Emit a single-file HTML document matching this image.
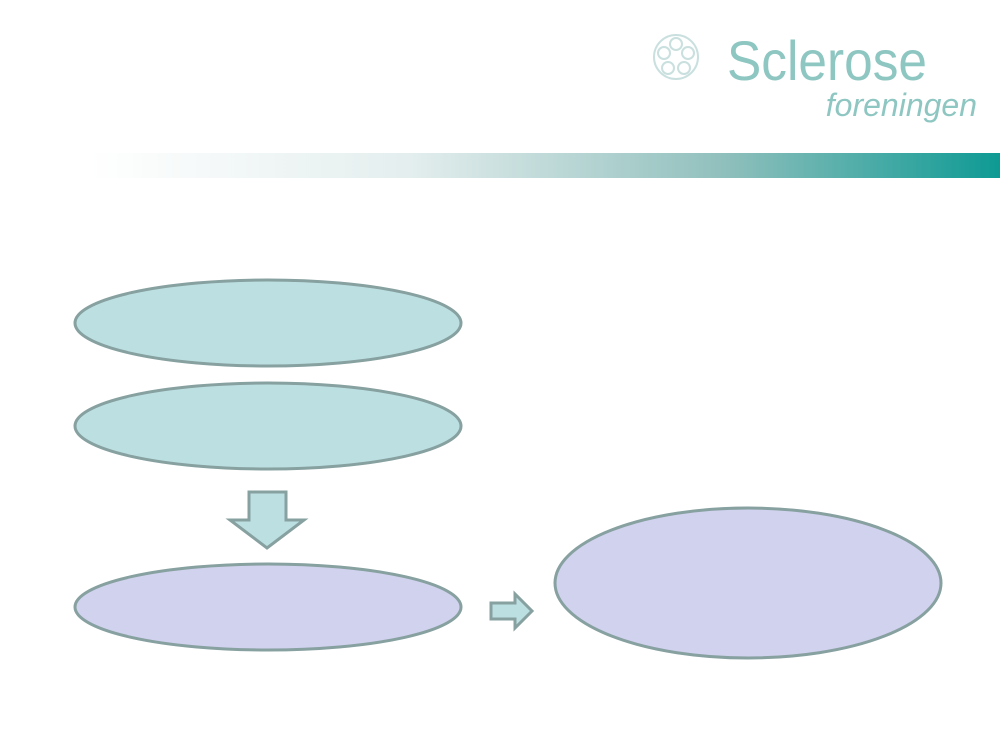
<!DOCTYPE html>
<html><head><style>body{margin:0;background:#fff}svg{display:block}</style></head><body>
<svg width="1000" height="750" xmlns="http://www.w3.org/2000/svg">
<defs><linearGradient id="g" x1="0" x2="1"><stop offset="0" stop-color="#fff"/><stop offset="0.35" stop-color="#e4eeee"/><stop offset="0.7" stop-color="#8fbfbc"/><stop offset="1" stop-color="#0e9a94"/></linearGradient></defs>
<rect x="90" y="153" width="910" height="25" fill="url(#g)"/>
<g fill="none" stroke="#c9e0df" stroke-width="2">
<circle cx="676" cy="57" r="22"/><circle cx="676" cy="44" r="6"/><circle cx="664" cy="53" r="6"/><circle cx="688" cy="53" r="6"/><circle cx="668" cy="68" r="6"/><circle cx="684" cy="68" r="6"/></g>
<text x="727" y="80" textLength="200" lengthAdjust="spacingAndGlyphs" font-family="Liberation Sans, sans-serif" font-size="56" fill="#8ec6c2">Sclerose</text>
<text x="977" y="116" text-anchor="end" font-family="Liberation Sans, sans-serif" font-style="italic" font-size="32" fill="#8ec6c2">foreningen</text>
<g stroke="#87a0a0" stroke-width="3">
<ellipse cx="268" cy="323" rx="193" ry="43" fill="#bce0e2"/>
<ellipse cx="268" cy="426" rx="193" ry="43" fill="#bce0e2"/>
<ellipse cx="268" cy="607" rx="193" ry="43" fill="#d1d2ee"/>
<ellipse cx="748" cy="583" rx="193" ry="75" fill="#d1d2ee"/>
<polygon points="249,492 286,492 286,520 304,520 267,548 230,520 249,520" fill="#bce0e2"/>
<polygon points="491,603 515,603 515,594 532,611 515,628 515,619 491,619" fill="#bce0e2"/>
</g>
</svg>
</body></html>
